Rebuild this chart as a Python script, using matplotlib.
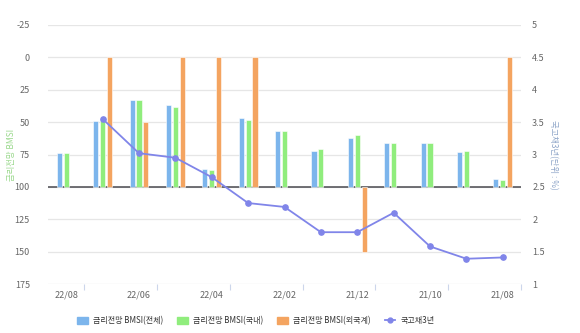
import matplotlib
matplotlib.use("Agg")
import matplotlib.pyplot as plt
from matplotlib.patches import Patch
from matplotlib.lines import Line2D
import numpy as np

plt.rcParams['font.family'] = ['Noto Sans CJK KR', 'DejaVu Sans']

# Months, newest first
months = ["22/08", "22/07", "22/06", "22/05", "22/04", "22/03", "22/02",
          "22/01", "21/12", "21/11", "21/10", "21/09", "21/08"]

# Bond market sentiment index (baseline 100)
bmsi_total = [74, 49, 33, 37, 86, 47, 57, 72, 62, 66, 66, 73, 94]
bmsi_domestic = [74, 48, 33, 38, 87, 48, 57, 71, 60, 66, 66, 72, 95]
bmsi_foreign = [100, 0, 50, 0, 0, 0, 100, 100, 150, 100, 100, 100, 0]

# 3-year treasury yield (%), no value for the latest month
ktb3y = [np.nan, 3.55, 3.02, 2.95, 2.65, 2.25, 2.19, 1.80, 1.80, 2.10, 1.58, 1.39, 1.41]

left_ticks = [-25, 0, 25, 50, 75, 100, 125, 150, 175]
right_ticks = [1, 1.5, 2, 2.5, 3, 3.5, 4, 4.5, 5]

c_total = "#7cb5ec"
c_dom = "#90ed7d"
c_for = "#f4a460"
c_line = "#8085e9"
grid_c = "#e6e6e6"
text_c = "#666666"

fig = plt.figure(figsize=(5.8, 3.33), dpi=100)
ax = fig.add_axes([48 / 580, 1 - 284 / 333, (521 - 48) / 580, (284 - 25) / 333])

x = np.arange(len(months))
base = 100
w = 0.14
off = 0.19

ax.axhline(base, color="#4a4a50", lw=1.1, zorder=1)
ax.bar(x - off, np.array(bmsi_total) - base, w, bottom=base, color=c_total,
       edgecolor="white", linewidth=0.4, zorder=2)
ax.bar(x, np.array(bmsi_domestic) - base, w, bottom=base, color=c_dom,
       edgecolor="white", linewidth=0.4, zorder=2)
fv = np.array(bmsi_foreign, dtype=float)
mask = fv != base
ax.bar(x[mask] + off, fv[mask] - base, w, bottom=base, color=c_for,
       edgecolor="white", linewidth=0.4, zorder=2)

ax.set_xlim(-0.5, len(months) - 0.5)
ax.set_ylim(175, -25)
ax.set_yticks(left_ticks)
ax.set_yticklabels([str(t) for t in left_ticks])
for t in left_ticks:
    ax.axhline(t, color=grid_c, lw=0.9, zorder=0)

ax.set_xticks(x[::2])
ax.set_xticklabels(months[::2])
ax.set_xticks(np.arange(0.5, len(months), 2), minor=True)
ax.tick_params(axis="x", which="major", length=0, pad=5, labelsize=6.5, colors=text_c)
ax.tick_params(axis="x", which="minor", length=4, color="#ccd6eb", width=0.8)
ax.tick_params(axis="y", length=0, pad=13, labelsize=6.5, colors=text_c)
for s in ax.spines.values():
    s.set_visible(False)

ax.set_ylabel("금리전망 BMSI", fontsize=6, color="#9ad88c", va="center")
ax.yaxis.set_label_coords(-0.078, 0.5)

ax2 = ax.twinx()
ax2.plot(x, ktb3y, color=c_line, lw=1.3, marker="o", markersize=3.8, zorder=5)
ax2.set_ylim(1, 5)
ax2.set_yticks(right_ticks)
ax2.set_yticklabels([f"{t:g}" for t in right_ticks])
ax2.tick_params(axis="y", length=0, pad=8, labelsize=6.5, colors=text_c)
for s in ax2.spines.values():
    s.set_visible(False)
ax2.set_ylabel("국고채3년(단위 : %)", fontsize=6, color="#8fa6c9", rotation=-90,
               va="center")
ax2.yaxis.set_label_coords(1.068, 0.5)

handles = [
    Patch(color=c_total, label="금리전망 BMSI(전체)"),
    Patch(color=c_dom, label="금리전망 BMSI(국내)"),
    Patch(color=c_for, label="금리전망 BMSI(외국계)"),
    Line2D([], [], color=c_line, lw=1.3, marker="o", markersize=3.5, label="국고채3년"),
]
leg = fig.legend(handles=handles, loc="center", bbox_to_anchor=(0.441, 0.037), ncol=4,
                 frameon=False, fontsize=5.8, handlelength=1.3, handleheight=1.0,
                 columnspacing=1.8, handletextpad=0.6)
for t in leg.get_texts():
    t.set_color("#333333")

fig.savefig("out.png", dpi=100)
